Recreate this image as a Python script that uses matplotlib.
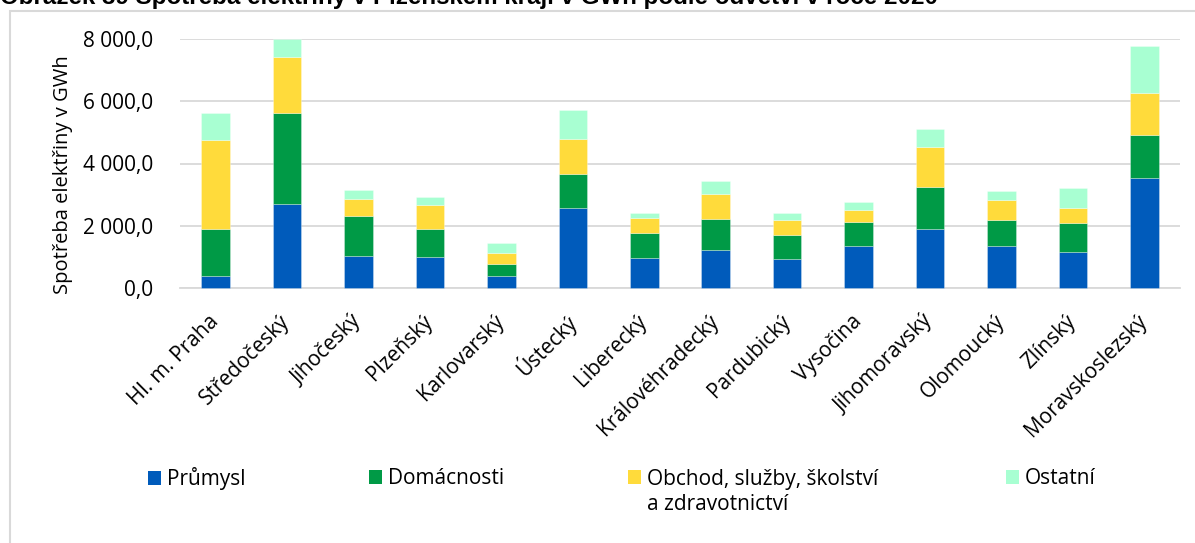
import matplotlib
matplotlib.use("Agg")
import matplotlib.pyplot as plt
import numpy as np
from matplotlib.patches import Rectangle, Patch
from matplotlib.ticker import FuncFormatter, MultipleLocator

categories = ["Hl. m. Praha", "Středočeský", "Jihočeský", "Plzeňský", "Karlovarský",
              "Ústecký", "Liberecký", "Královéhradecký", "Pardubický", "Vysočina",
              "Jihomoravský", "Olomoucký", "Zlínský", "Moravskoslezský"]
prumysl = [390, 2690, 1010, 980, 390, 2560, 970, 1200, 930, 1330, 1880, 1330, 1140, 3520]
domacnosti = [1500, 2925, 1310, 920, 385, 1100, 780, 1000, 775, 770, 1350, 860, 950, 1400]
obchod = [2866, 1820, 550, 770, 355, 1140, 480, 830, 480, 410, 1290, 645, 475, 1365]
ostatni = [880, 560, 280, 260, 310, 930, 190, 410, 225, 240, 590, 280, 645, 1500]
series_names = ["Průmysl", "Domácnosti", "Obchod, služby, školství", "Ostatní"]
legend_extra = "a zdravotnictví"
colors = ["#005BBB", "#009A46", "#FFDB3B", "#A8FFD2"]
title = "Obrázek 39 Spotřeba elektřiny v Plzeňském kraji v GWh podle odvětví v roce 2020"
ylabel = "Spotřeba elektřiny v GWh"

plt.rcParams['font.family'] = ['Open Sans', 'DejaVu Sans']

W, H = 1195, 543
fig = plt.figure(figsize=(W / 100, H / 100), dpi=100)
ax = fig.add_axes([180 / W, 1 - 287.7 / H, 1000 / W, (287.7 - 39.3) / H])

x = np.arange(len(categories))
bottom = np.zeros(len(categories))
data = [prumysl, domacnosti, obchod, ostatni]
for vals, c, name in zip(data, colors, series_names):
    ax.bar(x, vals, 0.4, bottom=bottom, color=c, label=name, zorder=3,
           edgecolor=(1, 1, 1, 0.35), linewidth=0.6, clip_on=False)
    bottom += np.array(vals)

ax.set_xlim(-0.5, len(categories) - 0.5)
ax.set_ylim(0, 8000)
ax.yaxis.set_major_locator(MultipleLocator(2000))
ax.yaxis.set_major_formatter(FuncFormatter(lambda v, p: f"{v:,.1f}".replace(",", " ").replace(".", ",")))
ax.grid(axis='y', color='#d9d9d9', linewidth=1.3, zorder=0)
for s in ['top', 'right', 'left']:
    ax.spines[s].set_visible(False)
ax.spines['bottom'].set_color('#d9d9d9')
ax.spines['bottom'].set_linewidth(1.3)
ax.tick_params(axis='both', length=0, labelsize=15, colors='black')
ax.tick_params(axis='y', pad=19)
ax.set_xticks(x)
ax.set_xticklabels(categories, rotation=45, ha='right', va='center',
                   rotation_mode='anchor', fontsize=15)
ax.tick_params(axis='x', pad=22)
ax.set_ylabel(ylabel, fontsize=14.5)
ax.yaxis.set_label_coords(-0.107, 0.455)

# chart frame
fig.add_artist(Rectangle((10 / W, -0.1), 1.2, 1.1 - 11 / H, transform=fig.transFigure,
                         fill=False, edgecolor='#d9d9d9', linewidth=1.5))

fig.text(0.0, 1 - 4 / H, title, fontsize=17.4, fontweight='bold',
         family=['Liberation Sans', 'DejaVu Sans'], ha='left', va='baseline')

fs_px = 15 * 100 / 72
leg_x = [148, 369, 628, 1006]
legends = []
for xx, c, name in zip(leg_x, colors, series_names):
    lg = fig.legend([Patch(facecolor=c)], [name], loc='center left',
                    bbox_to_anchor=(xx / W, 1 - 479 / H), frameon=False,
                    fontsize=15, handlelength=13 / fs_px, handleheight=14 / fs_px,
                    handletextpad=6 / fs_px, borderpad=0, borderaxespad=0)
    legends.append(lg)

fig.canvas.draw()
t = legends[2].get_texts()[0]
bx, by = t.get_transform().transform(t.get_position())
fig.text(bx / W, (by - 26) / H, legend_extra, fontsize=15, ha='left', va='baseline')

fig.savefig("out.png", dpi=100)
